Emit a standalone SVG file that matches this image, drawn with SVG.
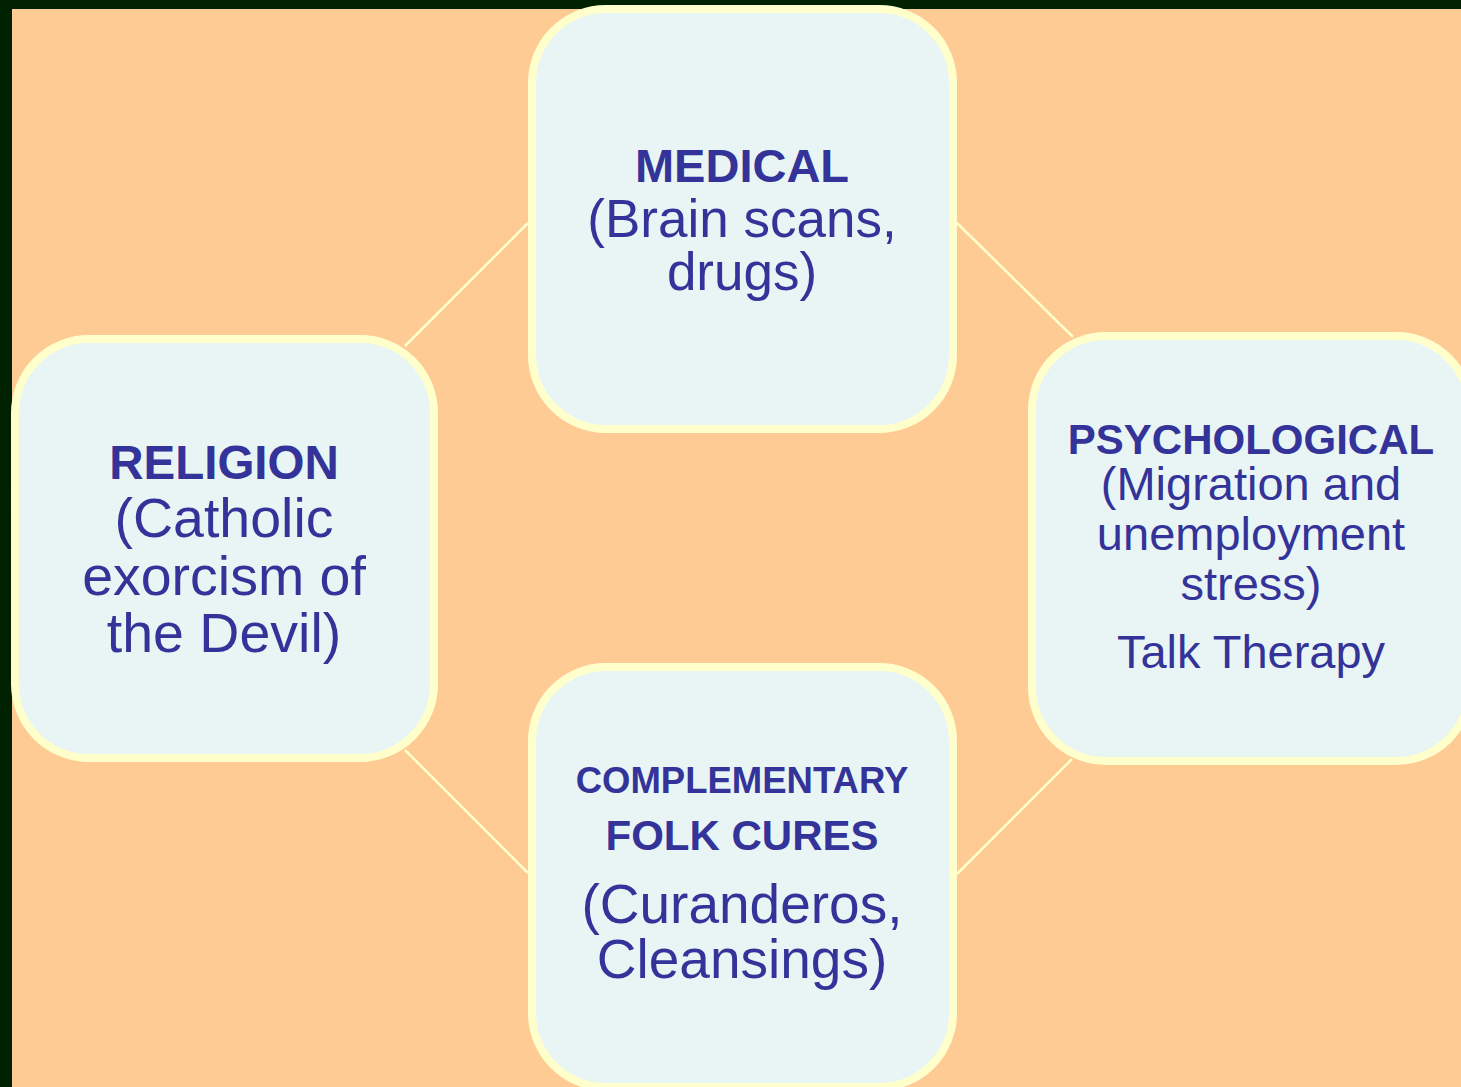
<svg xmlns="http://www.w3.org/2000/svg" width="1461" height="1087" viewBox="0 0 1461 1087">
<style>
.box{fill:#E8F5F4;stroke:#FFFFCC;stroke-width:8}
.con{stroke:#FFFFCC;stroke-width:2.5;fill:none}
text{font-family:"Liberation Sans",Arial,Helvetica,sans-serif;fill:#333399;text-anchor:middle}
.b{font-weight:bold}
</style>
<rect x="0" y="0" width="1461" height="1087" fill="#002200"/>
<rect x="12" y="9" width="1449" height="1078" fill="#FFCB94"/>
<g id="connectors">
<line class="con" x1="528" y1="223" x2="405" y2="346"/>
<line class="con" x1="405" y1="750" x2="528" y2="873"/>
<line class="con" x1="957" y1="223" x2="1073" y2="337"/>
<line class="con" x1="1072" y1="759" x2="957" y2="874"/>
</g>
<g id="medical">
<rect class="box" x="532" y="9" width="421" height="420" rx="74"/>
<text class="b" x="742" y="182" font-size="47">MEDICAL</text>
<text x="742" y="237" font-size="53">(Brain scans,</text>
<text x="742" y="290" font-size="53">drugs)</text>
</g>
<g id="religion">
<rect class="box" x="15" y="339" width="419" height="419" rx="74"/>
<text class="b" x="224" y="479" font-size="47.5">RELIGION</text>
<text x="224" y="537" font-size="55.5">(Catholic</text>
<text x="224" y="595" font-size="55.5">exorcism of</text>
<text x="224" y="652" font-size="55.5">the Devil)</text>
</g>
<g id="psychological">
<rect class="box" x="1032" y="336" width="438" height="425" rx="74"/>
<text class="b" x="1251" y="454" font-size="42">PSYCHOLOGICAL</text>
<text x="1251" y="500" font-size="47">(Migration and</text>
<text x="1251" y="550" font-size="47">unemployment</text>
<text x="1251" y="600" font-size="47">stress)</text>
<text x="1251" y="668" font-size="47">Talk Therapy</text>
</g>
<g id="complementary">
<rect class="box" x="532" y="667" width="421" height="420" rx="74"/>
<text class="b" x="742" y="793" font-size="36.5">COMPLEMENTARY</text>
<text class="b" x="742" y="850" font-size="42">FOLK CURES</text>
<text x="742" y="923" font-size="55">(Curanderos,</text>
<text x="742" y="978" font-size="55">Cleansings)</text>
</g>
</svg>
